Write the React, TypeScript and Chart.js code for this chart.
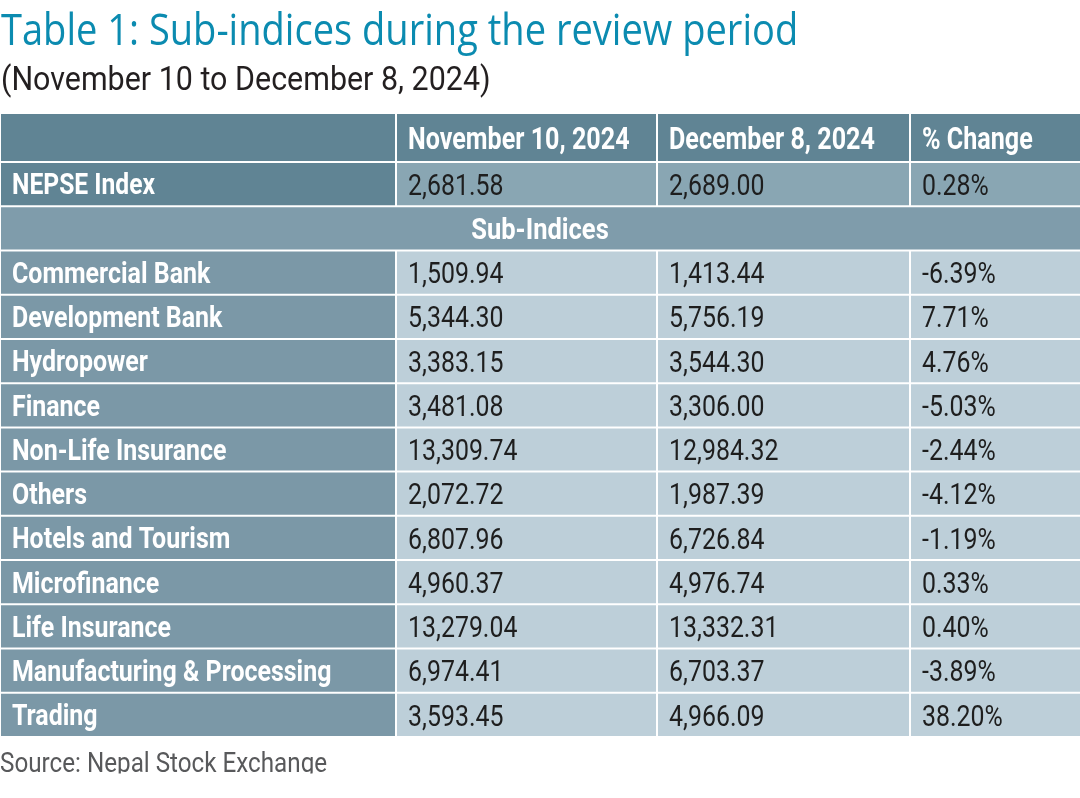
import React, { useEffect, useRef } from 'react';
import { Chart, registerables } from 'chart.js';

Chart.register(...registerables);

// ---------------- data ----------------
const titleText = 'Table 1: Sub-indices during the review period';
const subtitleText = '(November 10 to December 8, 2024)';
const sourceText = 'Source: Nepal Stock Exchange';

const columnHeaders = ['', 'November 10, 2024', 'December 8, 2024', '% Change'];
const indexName = 'NEPSE Index';
const indexValues = [2681.58, 2689.0, 0.28];
const groupLabel = 'Sub-Indices';

const categories = [
  'Commercial Bank',
  'Development Bank',
  'Hydropower',
  'Finance',
  'Non-Life Insurance',
  'Others',
  'Hotels and Tourism',
  'Microfinance',
  'Life Insurance',
  'Manufacturing & Processing',
  'Trading',
];
const nov10 = [1509.94, 5344.3, 3383.15, 3481.08, 13309.74, 2072.72, 6807.96, 4960.37, 13279.04, 6974.41, 3593.45];
const dec8 = [1413.44, 5756.19, 3544.3, 3306.0, 12984.32, 1987.39, 6726.84, 4976.74, 13332.31, 6703.37, 4966.09];
const pctChange = [-6.39, 7.71, 4.76, -5.03, -2.44, -4.12, -1.19, 0.33, 0.4, -3.89, 38.2];

// ---------------- layout / style ----------------
const W = 1080;
const H = 798;
const colEdges = [0, 396, 657, 910, 1082];
const HEADER_ROW = 1.108; // header row height relative to a body row
const TABLE_TOP = 113;
const TABLE_BOTTOM = 737;

const fills: Record<string, string> = {
  head: '#608494',
  idxLabel: '#608494',
  idxVal: '#89a6b3',
  group: '#7f9cab',
  label: '#7b98a7',
  val: '#bdcfd9',
};

type TextStyle = { size: number; weight: string; sx: number; color: string; align: 'left' | 'center'; family: string };
const textStyles: Record<string, TextStyle> = {
  head: { size: 31, weight: 'bold', sx: 0.81, color: '#ffffff', align: 'left', family: 'Roboto' },
  idxLabel: { size: 29, weight: 'bold', sx: 0.85, color: '#ffffff', align: 'left', family: 'Roboto' },
  label: { size: 29, weight: 'bold', sx: 0.86, color: '#ffffff', align: 'left', family: 'Roboto' },
  group: { size: 29, weight: 'bold', sx: 0.88, color: '#ffffff', align: 'center', family: 'Roboto' },
  idxVal: { size: 30, weight: 'normal', sx: 0.83, color: '#1e1e1e', align: 'left', family: 'Roboto' },
  val: { size: 30, weight: 'normal', sx: 0.83, color: '#1e1e1e', align: 'left', family: 'Roboto' },
};
const CELL_PAD = 12;

const fmtNum = (v: number) => {
  const [i, d] = Math.abs(v).toFixed(2).split('.');
  return (v < 0 ? '-' : '') + i.replace(/\B(?=(\d{3})+(?!\d))/g, ',') + '.' + d;
};
const fmtPct = (v: number) => v.toFixed(2) + '%';

function drawText(
  ctx: CanvasRenderingContext2D,
  text: string,
  x: number,
  y: number,
  font: string,
  color: string,
  sx: number,
  align: CanvasTextAlign,
) {
  ctx.save();
  ctx.font = font;
  ctx.fillStyle = color;
  ctx.textBaseline = 'alphabetic';
  ctx.textAlign = align;
  ctx.translate(x, y);
  ctx.scale(sx, 1);
  ctx.fillText(text, 0, 0);
  ctx.restore();
}

type Cell = { x: [number, number]; y: number; kind: string; text: string };

function buildCells() {
  const header: Cell[] = columnHeaders.map((t, c) => ({
    x: [colEdges[c], colEdges[c + 1]],
    y: HEADER_ROW / 2,
    kind: 'head',
    text: t,
  }));
  const body: Cell[] = [];
  let row = 0;
  const yOf = (r: number) => HEADER_ROW + r + 0.5;
  body.push({ x: [colEdges[0], colEdges[1]], y: yOf(row), kind: 'idxLabel', text: indexName });
  body.push({ x: [colEdges[1], colEdges[2]], y: yOf(row), kind: 'idxVal', text: fmtNum(indexValues[0]) });
  body.push({ x: [colEdges[2], colEdges[3]], y: yOf(row), kind: 'idxVal', text: fmtNum(indexValues[1]) });
  body.push({ x: [colEdges[3], colEdges[4]], y: yOf(row), kind: 'idxVal', text: fmtPct(indexValues[2]) });
  row++;
  body.push({ x: [colEdges[0], colEdges[4]], y: yOf(row), kind: 'group', text: groupLabel });
  row++;
  categories.forEach((cat, i) => {
    body.push({ x: [colEdges[0], colEdges[1]], y: yOf(row), kind: 'label', text: cat });
    body.push({ x: [colEdges[1], colEdges[2]], y: yOf(row), kind: 'val', text: fmtNum(nov10[i]) });
    body.push({ x: [colEdges[2], colEdges[3]], y: yOf(row), kind: 'val', text: fmtNum(dec8[i]) });
    body.push({ x: [colEdges[3], colEdges[4]], y: yOf(row), kind: 'val', text: fmtPct(pctChange[i]) });
    row++;
  });
  return { header, body, rows: row };
}

const cellTextPlugin = {
  id: 'cellText',
  afterDatasetsDraw(chart: any) {
    const ctx: CanvasRenderingContext2D = chart.ctx;
    chart.data.datasets.forEach((ds: any, di: number) => {
      const meta = chart.getDatasetMeta(di);
      meta.data.forEach((el: any, i: number) => {
        const raw: Cell = ds.data[i];
        if (!raw || !raw.text) return;
        const st = textStyles[raw.kind];
        const left = Math.min(el.x, el.base);
        const right = Math.max(el.x, el.base);
        const x = st.align === 'center' ? (left + Math.min(right, chart.chartArea.right)) / 2 : left + CELL_PAD;
        const y = el.y + (st.size * 0.711) / 2;
        drawText(ctx, raw.text, x, y, `${st.weight} ${st.size}px ${st.family}`, st.color, st.sx, st.align);
      });
    });
  },
};

const headingPlugin = {
  id: 'headings',
  afterDraw(chart: any) {
    const ctx: CanvasRenderingContext2D = chart.ctx;
    drawText(ctx, titleText, 1, 45, `normal 43px "Open Sans"`, '#0b8bb0', 0.885, 'left');
    drawText(ctx, subtitleText, 1, 90, `normal 34px Roboto`, '#231f20', 0.895, 'left');
    ctx.save();
    ctx.beginPath();
    ctx.rect(0, 0, W, 773.5);
    ctx.clip();
    drawText(ctx, sourceText, 0, 772, `normal 28px Roboto`, '#58595b', 0.865, 'left');
    ctx.restore();
  },
};

export default function App() {
  const canvasRef = useRef<HTMLCanvasElement | null>(null);

  useEffect(() => {
    if (!canvasRef.current) return;
    const { header, body, rows } = buildCells();
    const chart = new Chart(canvasRef.current, {
      type: 'bar',
      data: {
        datasets: [
          {
            label: 'Header',
            data: header as any,
            grouped: false,
            barPercentage: HEADER_ROW,
            categoryPercentage: 1,
            backgroundColor: (c: any) => fills[c.raw?.kind] || '#bdcfd9',
          } as any,
          {
            label: 'Body',
            data: body as any,
            grouped: false,
            barPercentage: 1,
            categoryPercentage: 1,
            backgroundColor: (c: any) => fills[c.raw?.kind] || '#bdcfd9',
          } as any,
        ],
      },
      options: {
        indexAxis: 'y',
        responsive: false,
        maintainAspectRatio: false,
        animation: false,
        devicePixelRatio: 1,
        layout: { padding: { top: TABLE_TOP, bottom: H - TABLE_BOTTOM, left: 0, right: 0 } },
        elements: {
          bar: { borderWidth: 1, borderColor: '#ffffff', borderSkipped: false, inflateAmount: 0 } as any,
        },
        scales: {
          x: { type: 'linear', min: 0, max: W, display: false, offset: false },
          y: {
            type: 'linear',
            min: 0,
            max: HEADER_ROW + rows,
            reverse: true,
            display: false,
            offset: false,
            grid: { offset: false },
            ticks: { stepSize: 1000 },
          },
        },
        plugins: {
          legend: { display: false },
          tooltip: { enabled: false },
          title: { display: false },
        },
        events: [],
      },
      plugins: [cellTextPlugin, headingPlugin],
    });
    return () => chart.destroy();
  }, []);

  return (
    <div style={{ position: 'fixed', left: 0, top: 0, width: W, height: H, background: '#ffffff' }}>
      <canvas ref={canvasRef} width={W} height={H} style={{ display: 'block', width: W, height: H }} />
    </div>
  );
}
